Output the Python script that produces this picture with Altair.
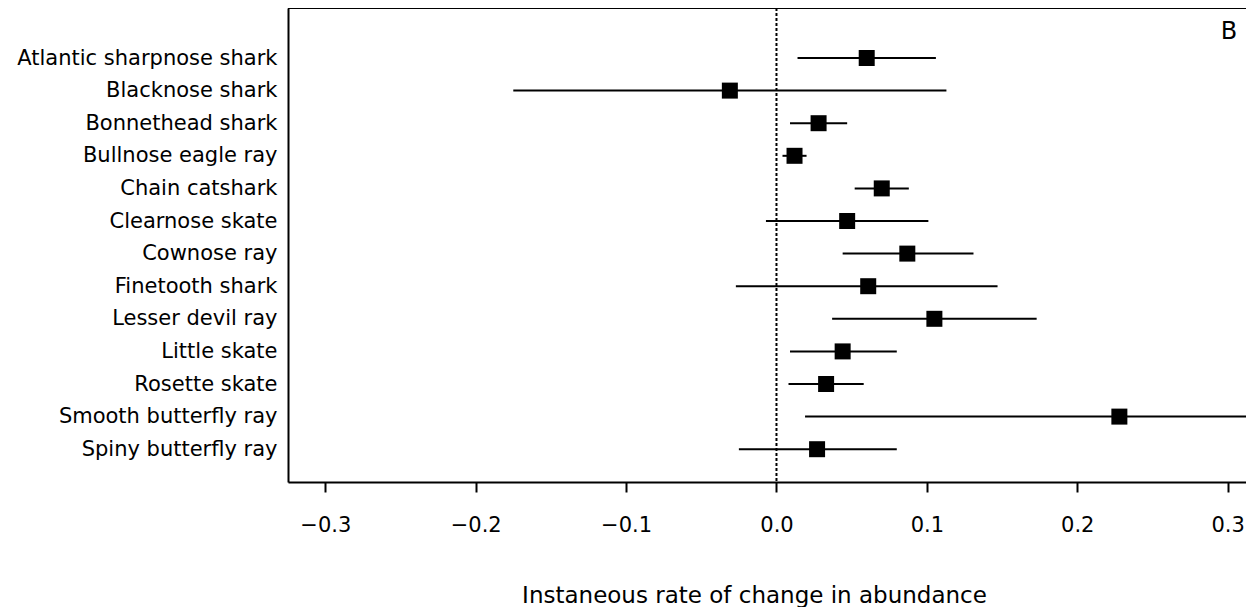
import json
import altair as alt
import pandas as pd

species = [
    "Atlantic sharpnose shark", "Blacknose shark", "Bonnethead shark",
    "Bullnose eagle ray", "Chain catshark", "Clearnose skate", "Cownose ray",
    "Finetooth shark", "Lesser devil ray", "Little skate", "Rosette skate",
    "Smooth butterfly ray", "Spiny butterfly ray",
]
estimate = [0.060, -0.031, 0.028, 0.012, 0.070, 0.047, 0.087, 0.061, 0.105, 0.044, 0.033, 0.228, 0.027]
lower = [0.014, -0.175, 0.009, 0.004, 0.052, -0.007, 0.044, -0.027, 0.037, 0.009, 0.008, 0.019, -0.025]
upper = [0.106, 0.113, 0.047, 0.020, 0.088, 0.101, 0.131, 0.147, 0.173, 0.080, 0.058, 0.440, 0.080]
x_ticks = [-0.3, -0.2, -0.1, 0.0, 0.1, 0.2, 0.3]
x_title = "Instaneous rate of change in abundance"
panel = "B"

df = pd.DataFrame({
    "species": species,
    "i": list(range(len(species))),
    "est": estimate,
    "low": lower,
    "high": upper,
})

W, H = 958, 474
FONT = "DejaVu Sans"

x_scale = alt.Scale(domain=[-0.3248, 0.3122], nice=False, zero=False)
x_axis = alt.Axis(
    values=x_ticks, format=".1f", title=x_title, grid=False,
    domainColor="black", domainWidth=2, tickColor="black", tickWidth=2,
    tickSize=10, labelFont=FONT, labelFontSize=21, labelColor="black",
    labelPadding=22, labelFlush=False, titleFont=FONT, titleFontSize=23,
    titleFontWeight="normal", titleColor="black", titlePadding=49,
    titleX=466,
)
y_scale = alt.Scale(domain=[-1.534, 13.006], reverse=True, nice=False, zero=False)
y_axis = alt.Axis(
    values=list(range(len(species))),
    labelExpr=json.dumps(species) + "[datum.value]",
    title=None, grid=False, domainColor="black", domainWidth=2, ticks=False,
    tickSize=0, labelFont=FONT, labelFontSize=21, labelColor="black",
    labelPadding=11, labelBaseline="middle", labelLimit=500,
)


def X(field):
    return alt.X(f"{field}:Q", scale=x_scale, axis=x_axis)


Y = alt.Y("i:Q", scale=y_scale, axis=y_axis)

base = alt.Chart(df)

bars = base.mark_rule(color="black", strokeWidth=2, clip=True).encode(
    x=X("low"), x2="high:Q", y=Y
)
pts = base.mark_square(color="black", size=256, opacity=1, filled=True, clip=True).encode(
    x=X("est"), y=Y
)
zero = alt.Chart(pd.DataFrame({"z": [0.0]})).mark_rule(
    color="black", strokeWidth=2, strokeDash=[3, 2]
).encode(x=X("z"))
top = alt.Chart(pd.DataFrame({"a": [0]})).mark_rule(color="black", strokeWidth=2).encode(
    x=alt.value(0), x2=alt.value(W), y=alt.value(0)
)
letter = alt.Chart(pd.DataFrame({"t": [panel]})).mark_text(
    font=FONT, fontSize=24, color="black", align="center", baseline="middle"
).encode(text="t:N", x=alt.value(941), y=alt.value(24))

chart = (
    alt.layer(zero, bars, pts, top, letter)
    .properties(
        width=W, height=H,
        autosize=alt.AutoSizeParams(type="none"),
        padding={"left": 280, "top": 0, "right": 0, "bottom": 125},
    )
    .configure_view(stroke=None)
    .configure(background="white")
)

chart.save("out.html", embed_options={"renderer": "svg", "actions": False})
